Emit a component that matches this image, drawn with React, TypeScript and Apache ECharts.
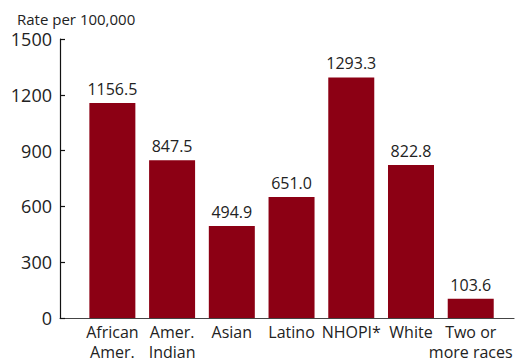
import React, { useEffect, useRef } from "react";
import * as echarts from "echarts";

const categories = ["African\nAmer.", "Amer.\nIndian", "Asian", "Latino", "NHOPI*", "White", "Two or\nmore races"];
const rates = [1156.5, 847.5, 494.9, 651.0, 1293.3, 822.8, 103.6];
const yTicks = { min: 0, max: 1500, interval: 300 };
const titleText = "Rate per 100,000";

const FONT = "'Open Sans', 'Noto Sans', sans-serif";

export default function App() {
  const ref = useRef<HTMLDivElement>(null);
  useEffect(() => {
    const chart = echarts.init(ref.current!, null, { renderer: "svg" });
    chart.setOption({
      animation: false,
      title: {
        text: titleText,
        left: 12,
        top: 6,
        textStyle: { fontFamily: FONT, fontSize: 15, fontWeight: "normal", color: "#222" },
      },
      grid: [
        { left: 82.5, right: 5.5, top: 39, bottom: 46 },
        { left: 60, right: 1, top: 39, bottom: 46 },
      ],
      xAxis: [
        {
          type: "category",
          gridIndex: 0,
          data: categories,
          axisLine: { show: false },
          axisTick: { show: false },
          axisLabel: {
            fontFamily: FONT,
            fontSize: 16,
            color: "#222",
            lineHeight: 20,
            margin: 4,
            interval: 0,
          },
        },
        {
          type: "value",
          gridIndex: 1,
          min: 0,
          max: 1,
          axisLine: { show: true, lineStyle: { color: "#444", width: 1.2 } },
          axisTick: { show: false },
          axisLabel: { show: false },
          splitLine: { show: false },
        },
      ],
      yAxis: [
        {
          type: "value",
          gridIndex: 0,
          min: yTicks.min,
          max: yTicks.max,
          interval: yTicks.interval,
          show: false,
        },
        {
          type: "value",
          gridIndex: 1,
          min: yTicks.min,
          max: yTicks.max,
          interval: yTicks.interval,
          axisLine: { show: true, lineStyle: { color: "#111", width: 1.2 } },
          axisTick: { show: true, inside: true, length: 5, lineStyle: { color: "#111", width: 1.2 } },
          axisLabel: {
            fontFamily: FONT,
            fontSize: 18,
            color: "#222",
            margin: 8,
            formatter: (v: number) => String(v),
          },
          splitLine: { show: false },
        },
      ],
      series: [
        {
          type: "bar",
          xAxisIndex: 0,
          yAxisIndex: 0,
          data: rates,
          barWidth: 46,
          itemStyle: { color: "#8C0014" },
          label: {
            show: true,
            position: "top",
            distance: 6,
            fontFamily: FONT,
            fontSize: 16,
            color: "#222",
            formatter: (p: any) => Number(p.value).toFixed(1),
          },
        },
      ],
    });
    return () => chart.dispose();
  }, []);
  return <div ref={ref} style={{ width: 515, height: 364, position: "absolute", left: 0, top: 0 }} />;
}
